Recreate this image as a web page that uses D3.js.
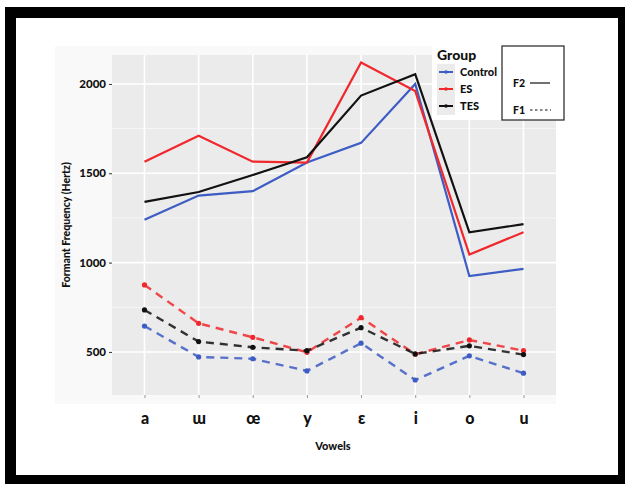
<!DOCTYPE html>
<html><head><meta charset="utf-8">
<script src="https://cdn.jsdelivr.net/npm/d3@7"></script>
<style>body{margin:0;background:#fff}svg{display:block}text{font-family:Lato,"Open Sans",sans-serif;font-weight:900}</style>
</head><body><svg id="c" width="625" height="484"></svg>
<script>
const vowels = ["a","ɯ","œ","y","ɛ","i","o","u"];
const groups = ["Control","ES","TES"];
const groupColors = ["#3D5CC4","#F0282C","#111111"];
const f2Control = [1240,1375,1400,1560,1670,2000,925,965];
const f2ES      = [1565,1710,1565,1560,2120,1960,1045,1170];
const f2TES     = [1340,1395,1490,1590,1935,2055,1170,1215];
const f1Control = [645,472,462,394,549,343,478,381];
const f1ES      = [875,660,582,498,692,487,567,507];
const f1TES     = [735,558,526,507,636,489,534,485];
const yTicks = [500,1000,1500,2000];
const yMinor = [750,1250,1750];

const svg = d3.select("#c");
svg.append("rect").attr("x",5).attr("y",7).attr("width",620).attr("height",477).attr("fill","#000");
svg.append("rect").attr("x",16).attr("y",18).attr("width",602).attr("height",457).attr("fill","#fff");
svg.append("rect").attr("x",55).attr("y",46).attr("width",501).attr("height",358).attr("fill","#F9F9F9");

const L=112,R=556,T=55,B=395;
const x = d3.scalePoint().domain(vowels).range([L,R]).padding(0.6);
const y = d3.scaleLinear().domain([259,2162]).range([B,T]);

svg.append("rect").attr("x",L).attr("y",T).attr("width",R-L).attr("height",B-T).attr("fill","#EBEBEB");
const g = svg.append("g");
g.selectAll(".mn").data(yMinor).join("line").attr("x1",L).attr("x2",R).attr("y1",d=>y(d)).attr("y2",d=>y(d)).attr("stroke","#F6F6F6").attr("stroke-width",1);
g.selectAll(".mj").data(yTicks).join("line").attr("x1",L).attr("x2",R).attr("y1",d=>y(d)).attr("y2",d=>y(d)).attr("stroke","#fff").attr("stroke-width",1.6);
g.selectAll(".vx").data(vowels).join("line").attr("x1",d=>x(d)).attr("x2",d=>x(d)).attr("y1",T).attr("y2",B).attr("stroke","#fff").attr("stroke-width",1.6);

const ya = svg.append("g").attr("transform",`translate(${L},0)`).call(d3.axisLeft(y).tickValues(yTicks).tickFormat(d3.format("d")).tickSize(3).tickPadding(3));
ya.select(".domain").remove();
ya.selectAll("line").attr("stroke","#333");
ya.selectAll("text").style("font-size","11.5px").attr("fill","#111");
const xa = svg.append("g").attr("transform",`translate(0,${B})`).call(d3.axisBottom(x).tickSize(3).tickPadding(15));
xa.select(".domain").remove();
xa.selectAll("line").attr("stroke","#999");
xa.selectAll("text").style("font-size","16px").attr("fill","#111");

svg.append("text").attr("x",333).attr("y",450).attr("text-anchor","middle").style("font-size","11px").attr("fill","#111").text("Vowels");
svg.append("text").attr("transform","translate(70,225) rotate(-90)").attr("text-anchor","middle").style("font-size","10.5px").attr("fill","#111").text("Formant Frequency (Hertz)");

const f2 = [f2Control,f2ES,f2TES], f1=[f1Control,f1ES,f1TES];
const line = d3.line().x((d,i)=>x(vowels[i])).y(d=>y(d));
f1.forEach((s,k)=>{
  svg.append("path").attr("d",line(s)).attr("fill","none").attr("stroke",groupColors[k]).attr("stroke-width",2.4).attr("stroke-dasharray","8,6").attr("opacity",0.85);
  svg.selectAll(null).data(s).join("circle").attr("cx",(d,i)=>x(vowels[i])).attr("cy",d=>y(d)).attr("r",2.6).attr("fill",groupColors[k]);
});
f2.forEach((s,k)=>{
  svg.append("path").attr("d",line(s)).attr("fill","none").attr("stroke",groupColors[k]).attr("stroke-width",2.2);
});

svg.append("rect").attr("x",432).attr("y",42).attr("width",70).attr("height",78).attr("fill","#fff");
svg.append("text").attr("x",437).attr("y",60).style("font-size","14px").attr("fill","#111").text("Group");
const ly=[72,89,106];
groups.forEach((gname,k)=>{
  svg.append("rect").attr("x",437).attr("y",ly[k]-8).attr("width",18).attr("height",17).attr("fill","#EBEBEB");
  svg.append("line").attr("x1",439).attr("x2",453).attr("y1",ly[k]).attr("y2",ly[k]).attr("stroke",groupColors[k]).attr("stroke-width",2);
  svg.append("circle").attr("cx",446).attr("cy",ly[k]).attr("r",1.8).attr("fill",groupColors[k]);
  svg.append("text").attr("x",460).attr("y",ly[k]+4).style("font-size","11px").attr("fill","#111").text(gname);
});
svg.append("rect").attr("x",502).attr("y",46).attr("width",62).attr("height",74).attr("fill","#fff").attr("stroke","#222").attr("stroke-width",1.2);
svg.append("text").attr("x",513).attr("y",87).style("font-size","10.5px").attr("fill","#111").text("F2");
svg.append("line").attr("x1",530).attr("x2",550).attr("y1",83).attr("y2",83).attr("stroke","#111").attr("stroke-width",1.2);
svg.append("text").attr("x",513).attr("y",114).style("font-size","10.5px").attr("fill","#111").text("F1");
svg.append("line").attr("x1",530).attr("x2",551).attr("y1",110).attr("y2",110).attr("stroke","#111").attr("stroke-width",1.2).attr("stroke-dasharray","2.5,2.5");
</script></body></html>
